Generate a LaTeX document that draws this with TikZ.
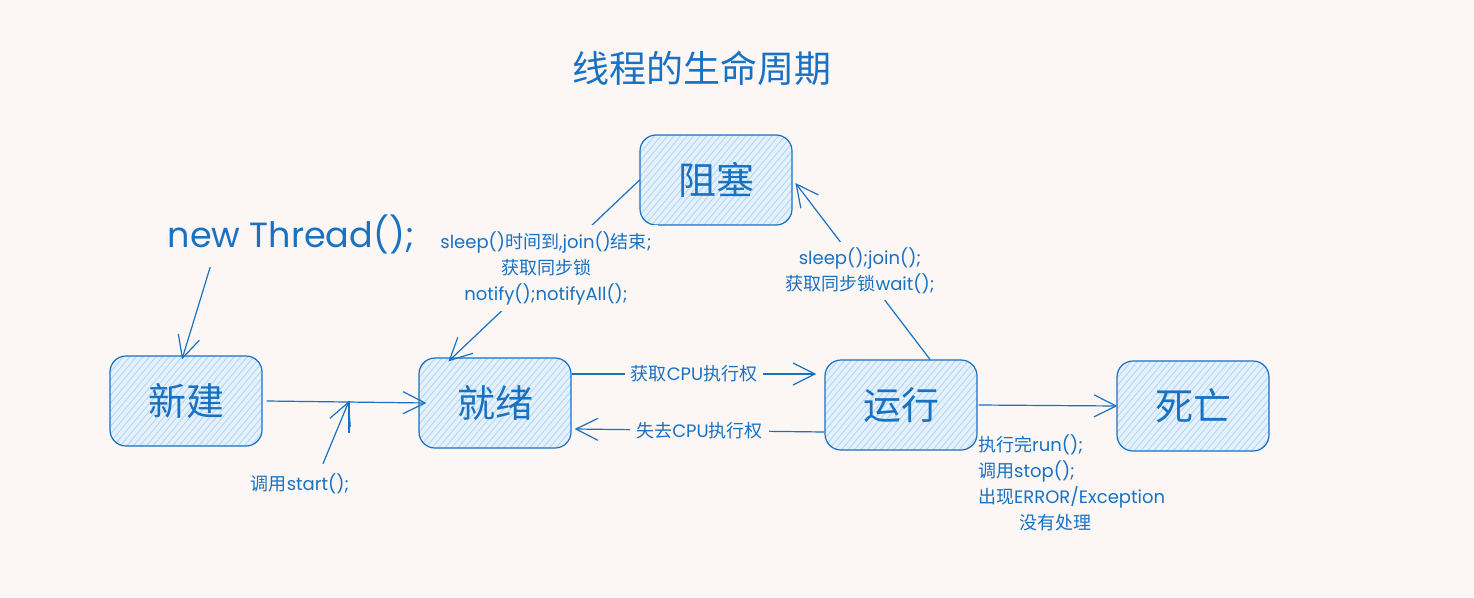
\documentclass[tikz,border=0pt]{standalone}
\usepackage{fontspec}
\setmainfont{Poppins}
\newfontfamily\zhfont{Noto Sans CJK SC}
\usepackage{tikz}
\usetikzlibrary{arrows.meta,patterns.meta}
\definecolor{paper}{HTML}{FCF7F5}
\definecolor{lineblue}{HTML}{1971C2}
\definecolor{boxfill}{HTML}{E4F0FB}
\definecolor{hatch}{HTML}{AED5F5}
\newcommand{\zh}[1]{{\zhfont #1}}

\begin{document}
\begin{tikzpicture}[x=1pt, y=-1pt, >={Straight Barb[length=22pt,width=22pt]},
  state/.style={draw=lineblue, line width=1.2pt, rounded corners=16pt,
    minimum width=152pt, minimum height=90pt, preaction={fill=boxfill},
    pattern={Lines[angle=50,distance=5pt,line width=0.8pt]}, pattern color=hatch,
    text=lineblue, font=\zhfont\fontsize{38}{40}\selectfont},
  lbl/.style={fill=paper, text=lineblue, inner sep=6pt, font=\fontsize{18}{26}\selectfont},
  link/.style={draw=lineblue, line width=1.2pt, ->}]
  \path[use as bounding box, fill=paper] (0,0) rectangle (1474,597);
  % ---------------------------------------------------------------- title
  \node[text=lineblue, font=\zhfont\fontsize{37}{40}\selectfont] (title) at (702,68) {线程的生命周期};
  % ---------------------------------------------------------------- the five states
  \node[state] (zusai) at (716,180) {阻塞};
  \node[state] (xinjian) at (186,401) {新建};
  \node[state] (jiuxu) at (495,403) {就绪};
  \node[state] (yunxing) at (901,405) {运行};
  \node[state] (siwang) at (1193,406) {死亡};
  % ---------------------------------------------------------------- creating the thread
  \node[text=lineblue, font=\fontsize{35}{38}\selectfont] (newthread) at (291,234) {new Thread();};
  \draw[link] ([xshift=46pt,yshift=-10pt]newthread.south west) -- ([xshift=-4pt,yshift=-4pt]xinjian.north);
  \draw[link] ([xshift=4pt]xinjian.east) -- ([xshift=8pt]jiuxu.west);
  \coordinate (tick) at (349,401);
  \draw[lineblue, line width=1.2pt] (tick) -- ++(0,32);
  \node[lbl] (start) at (300,484) {\zh{调用}start();};
  \draw[link] ([xshift=23pt,yshift=4pt]start.north) -- (tick);
  % ---------------------------------------------------------------- blocked and back again
  \draw[link] (zusai.west) -- ([xshift=30pt,yshift=-4pt]jiuxu.north west);
  \draw[link] ([xshift=29pt]yunxing.north) -- ([xshift=3pt,yshift=-3pt]zusai.east);
  \node[lbl, align=center] (wake) at (546,268)
    {sleep()\zh{时间到},join()\zh{结束};\\ \zh{获取同步锁}\\ notify();notifyAll();};
  \node[lbl, align=center] (block) at (860,271)
    {sleep();join();\\ \zh{获取同步锁}wait();};
  % ---------------------------------------------------------------- ready <-> running
  \draw[link] ([yshift=29pt]jiuxu.east) -- node[lbl] (getcpu) {\zh{获取}CPU\zh{执行权}}
    ([xshift=-8pt,yshift=31pt]yunxing.west);
  \draw[link] ([yshift=-27pt]yunxing.west) -- node[lbl] (losecpu) {\zh{失去}CPU\zh{执行权}}
    ([xshift=3pt,yshift=-26pt]jiuxu.east);
  % ---------------------------------------------------------------- running -> dead
  \draw[link] ([xshift=1pt]yunxing.east) -- ([xshift=1pt]siwang.west);
  \node[lbl, fill=none, align=left, anchor=north west, inner sep=2pt] (finish) at (976,432)
    {\zh{执行完}run();\\ \zh{调用}stop();\\ \zh{出现}ERROR/Exception\\ \hspace*{41pt}\zh{没有处理}};
\end{tikzpicture}
\end{document}
